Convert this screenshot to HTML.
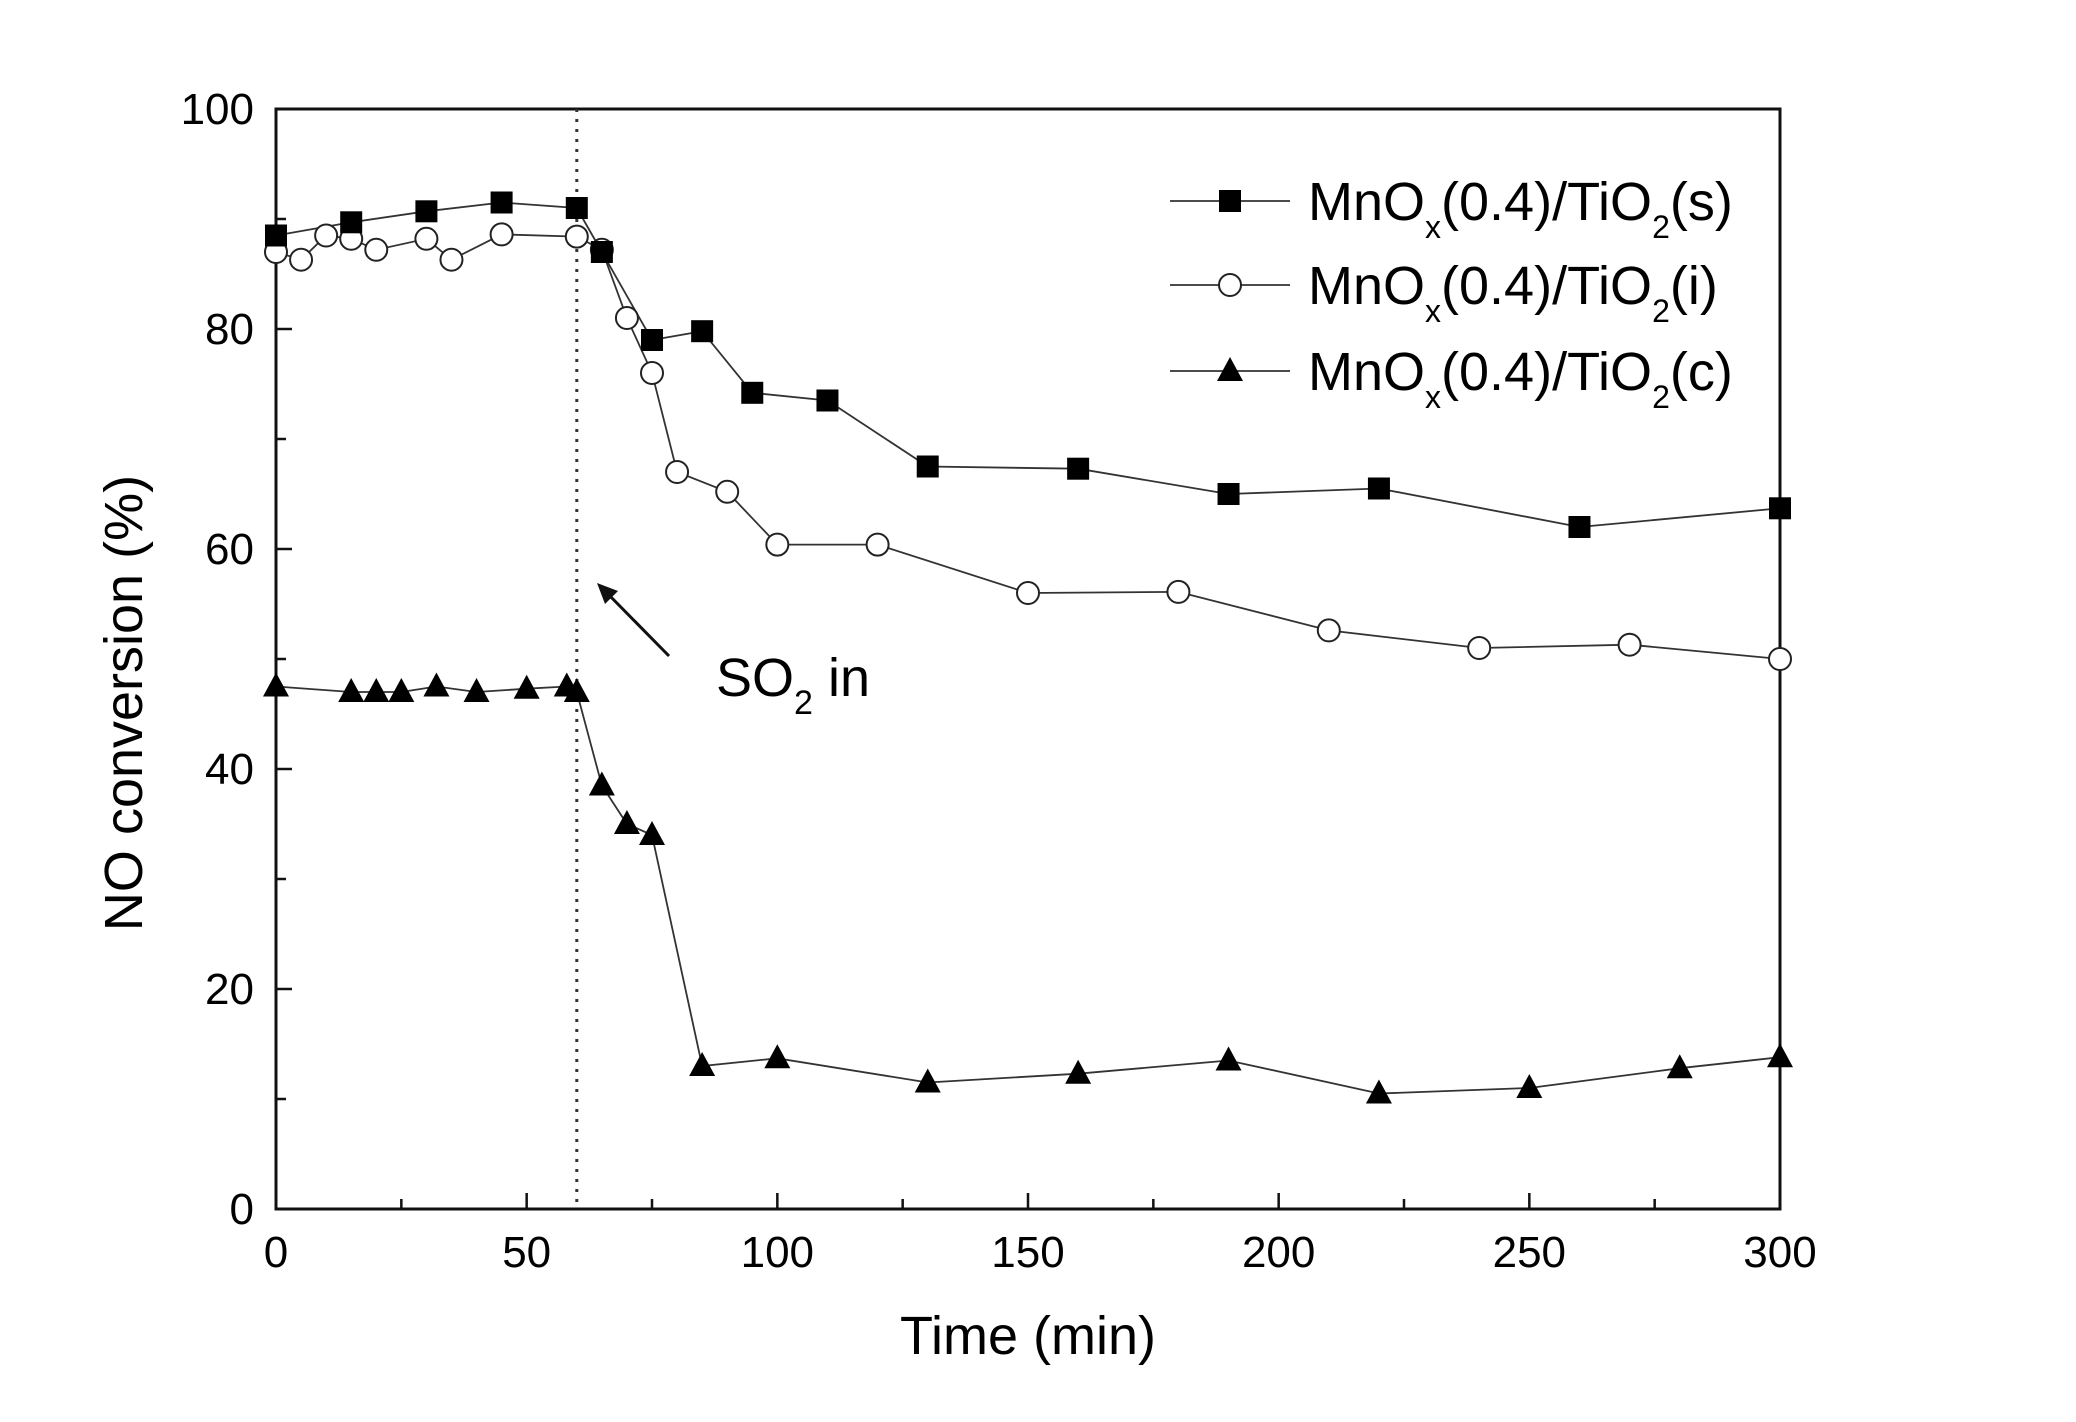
<!DOCTYPE html>
<html><head><style>body{margin:0;background:#fff}svg{display:block}</style></head>
<body>
<svg id="s" width="2076" height="1422" xmlns="http://www.w3.org/2000/svg" font-family="Liberation Sans, Arial, sans-serif"></svg>
<script>
const s=document.getElementById('s');
const X0=276,X1=1780,Y0=1209,Y1=109;
const fx=t=>X0+(X1-X0)*t/300, fy=v=>Y0-(Y0-Y1)*v/100;
let h='';
h+=`<rect x="${X0}" y="${Y1}" width="${X1-X0}" height="${Y0-Y1}" fill="none" stroke="#111" stroke-width="3"/>`;
for(let t=0;t<=300;t+=25){const x=fx(t);const L=t%50==0?16:10;h+=`<line x1="${x}" y1="${Y0}" x2="${x}" y2="${Y0-L}" stroke="#111" stroke-width="2.5"/>`;
 if(t%50==0)h+=`<text x="${x}" y="${Y0+58}" font-size="44" text-anchor="middle">${t}</text>`;}
for(let v=0;v<=100;v+=10){const y=fy(v);const L=v%20==0?16:10;h+=`<line x1="${X0}" y1="${y}" x2="${X0+L}" y2="${y}" stroke="#111" stroke-width="2.5"/>`;
 if(v%20==0)h+=`<text x="${X0-22}" y="${y+15}" font-size="44" text-anchor="end">${v}</text>`;}
h+=`<text x="${(X0+X1)/2}" y="1354" font-size="54" text-anchor="middle">Time (min)</text>`;
h+=`<text transform="translate(142,703) rotate(-90)" font-size="54" text-anchor="middle">NO conversion (%)</text>`;
h+=`<line x1="${fx(60)}" y1="${Y1}" x2="${fx(60)}" y2="${Y0}" stroke="#333" stroke-width="3" stroke-dasharray="3,7"/>`;
h+=`<line x1="669" y1="656" x2="608" y2="594" stroke="#111" stroke-width="3"/><polygon points="597,583 618,591 605,604" fill="#111"/>`;
h+=`<text x="716" y="696" font-size="54">SO<tspan font-size="34" dy="18">2</tspan><tspan dy="-18"> in</tspan></text>`;
const sq=[[0,88.5],[15,89.7],[30,90.7],[45,91.5],[60,91],[65,87],[75,79],[85,79.8],[95,74.2],[110,73.5],[130,67.5],[160,67.3],[190,65],[220,65.5],[260,62],[300,63.7]];
const ci=[[0,87],[5,86.3],[10,88.5],[15,88.2],[20,87.2],[30,88.2],[35,86.3],[45,88.6],[60,88.4],[65,87.2],[70,81],[75,76],[80,67],[90,65.2],[100,60.4],[120,60.4],[150,56],[180,56.1],[210,52.6],[240,51],[270,51.3],[300,50]];
const tr=[[0,47.5],[15,47],[20,47],[25,47],[32,47.5],[40,47],[50,47.3],[58,47.5],[60,47],[65,38.5],[70,35],[75,34],[85,13],[100,13.7],[130,11.5],[160,12.3],[190,13.5],[220,10.5],[250,11],[280,12.8],[300,13.8]];
const line=d=>`<polyline points="${d.map(p=>fx(p[0])+','+fy(p[1])).join(' ')}" fill="none" stroke="#333" stroke-width="1.8"/>`;
const mS=(x,y)=>`<rect x="${x-11}" y="${y-11}" width="22" height="22" fill="#000"/>`;
const mC=(x,y)=>`<circle cx="${x}" cy="${y}" r="11" fill="#fff" stroke="#222" stroke-width="2"/>`;
const mT=(x,y)=>`<polygon points="${x},${y-14} ${x-13},${y+10} ${x+13},${y+10}" fill="#000"/>`;
h+=line(ci)+line(sq)+line(tr);
ci.forEach(p=>h+=mC(fx(p[0]),fy(p[1])));
sq.forEach(p=>h+=mS(fx(p[0]),fy(p[1])));
tr.forEach(p=>h+=mT(fx(p[0]),fy(p[1])));
const leg=[[201,mS,'s'],[285,mC,'i'],[371,mT,'c']];
leg.forEach(([y,m,c])=>{h+=`<line x1="1170" y1="${y}" x2="1290" y2="${y}" stroke="#333" stroke-width="1.8"/>`+m(1230,y);
 h+=`<text x="1308" y="${y+19}" font-size="54">MnO<tspan font-size="32" dy="18">x</tspan><tspan dy="-18">(0.4)/TiO</tspan><tspan font-size="32" dy="18">2</tspan><tspan dy="-18">(${c})</tspan></text>`;});
s.innerHTML=h;
</script>
</body></html>
